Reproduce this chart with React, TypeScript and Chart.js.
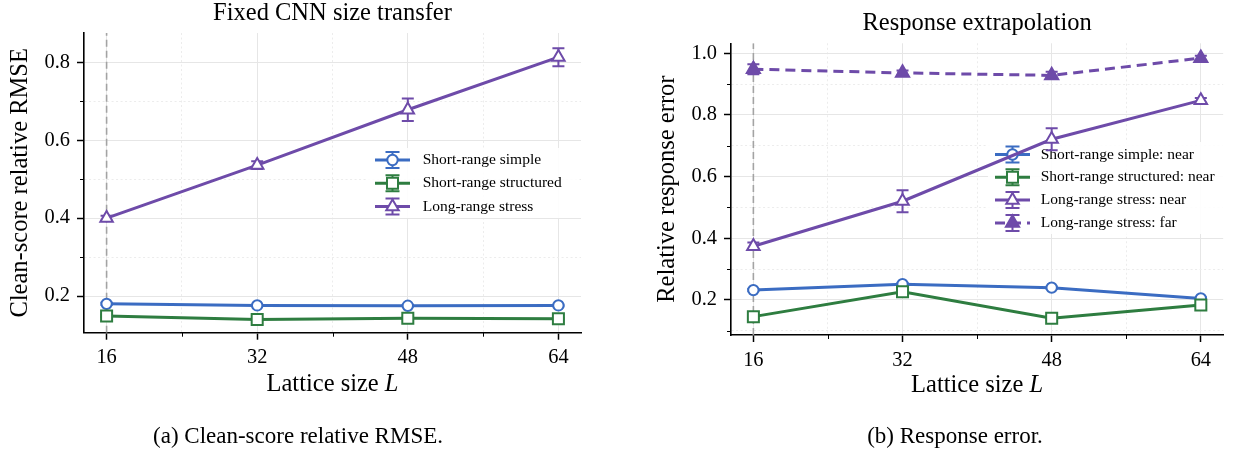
import React, { useEffect, useRef } from "react";
import { Chart, registerables } from "chart.js";
import { drawPoint } from "chart.js/helpers";

Chart.register(...registerables);

const SERIF = "'Liberation Serif', 'Times New Roman', 'DejaVu Serif', serif";

// ---------- shared axis data ----------
const latticeSizes = [16, 32, 48, 64];
const xTickValues = [16, 24, 32, 40, 48, 56, 64];
const xLabelledTicks = [16, 32, 48, 64];
const referenceSize = 16;
const xAxisTitle = "Lattice size ";
const xAxisTitleItalic = "L";

// ---------- panel (a): clean-score relative RMSE ----------
const cleanSimple = [0.18, 0.176, 0.175, 0.176];
const cleanSimpleErr = [0.003, 0.002, 0.002, 0.002];
const cleanStructured = [0.149, 0.14, 0.143, 0.142];
const cleanStructuredErr = [0.003, 0.002, 0.002, 0.002];
const cleanLongRange = [0.4, 0.536, 0.678, 0.813];
const cleanLongRangeErr = [0.006, 0.01, 0.029, 0.023];
const leftYTicks = [0.2, 0.3, 0.4, 0.5, 0.6, 0.7, 0.8];
const leftYLabelled = [0.2, 0.4, 0.6, 0.8];

// ---------- panel (b): response extrapolation ----------
const respSimpleNear = [0.232, 0.251, 0.24, 0.205];
const respSimpleNearErr = [0.004, 0.004, 0.004, 0.004];
const respStructuredNear = [0.146, 0.227, 0.141, 0.184];
const respStructuredNearErr = [0.005, 0.005, 0.005, 0.005];
const respLongNear = [0.374, 0.52, 0.721, 0.847];
const respLongNearErr = [0.012, 0.036, 0.036, 0.008];
const respLongFar = [0.948, 0.936, 0.928, 0.984];
const respLongFarErr = [0.016, 0.008, 0.012, 0.008];
const rightYTicks = [0.1, 0.2, 0.3, 0.4, 0.5, 0.6, 0.7, 0.8, 0.9, 1.0];
const rightYLabelled = [0.2, 0.4, 0.6, 0.8, 1.0];

const BLUE = "#3b6cc2";
const GREEN = "#2e7d40";
const PURPLE = "#6e4ba9";
const REF = "#a3a3a3";
const GRID = "#e6e6e6";

const near = (a: number, list: number[]) => list.some((b) => Math.abs(a - b) < 1e-6);

type Series = {
  label: string;
  values: number[];
  errors: number[];
  color: string;
  marker: string;
  radius: number;
  filled: boolean;
  dashed: boolean;
};

type Spec = {
  title: string;
  yTitle: string;
  yTitlePad: number;
  yMin: number;
  yMax: number;
  yTicks: number[];
  yLabelled: number[];
  xMin: number;
  xMax: number;
  padTop: number;
  titlePadBottom: number;
  padRight: number;
  yAxisWidth: number;
  xAxisHeight: number;
  xLabelY: number;
  caption: string;
  captionX: number;
  captionY: number;
  series: Series[];
  legend: { x: number; y: number; spacing: number; handle: number; textX: number; box: number[] };
};

const leftSeries: Series[] = [
  { label: "Short-range simple", values: cleanSimple, errors: cleanSimpleErr, color: BLUE, marker: "circle", radius: 5.2, filled: false, dashed: false },
  { label: "Short-range structured", values: cleanStructured, errors: cleanStructuredErr, color: GREEN, marker: "rect", radius: 7.8, filled: false, dashed: false },
  { label: "Long-range stress", values: cleanLongRange, errors: cleanLongRangeErr, color: PURPLE, marker: "triangle", radius: 7.2, filled: false, dashed: false },
];

const rightSeries: Series[] = [
  { label: "Short-range simple: near", values: respSimpleNear, errors: respSimpleNearErr, color: BLUE, marker: "circle", radius: 5.2, filled: false, dashed: false },
  { label: "Short-range structured: near", values: respStructuredNear, errors: respStructuredNearErr, color: GREEN, marker: "rect", radius: 7.8, filled: false, dashed: false },
  { label: "Long-range stress: near", values: respLongNear, errors: respLongNearErr, color: PURPLE, marker: "triangle", radius: 7.2, filled: false, dashed: false },
  { label: "Long-range stress: far", values: respLongFar, errors: respLongFarErr, color: PURPLE, marker: "triangle", radius: 7.6, filled: true, dashed: true },
];

const leftSpec: Spec = {
  title: "Fixed CNN size transfer",
  yTitle: "Clean-score relative RMSE",
  yTitlePad: 5.5,
  yMin: 0.106,
  yMax: 0.875,
  yTicks: leftYTicks,
  yLabelled: leftYLabelled,
  xMin: 13.6,
  xMax: 66.4,
  padTop: 0,
  titlePadBottom: 6.75,
  padRight: 39,
  yAxisWidth: 84,
  xAxisHeight: 124.3,
  xLabelY: 385,
  caption: "(a) Clean-score relative RMSE.",
  captionX: 298,
  captionY: 437,
  series: leftSeries,
  legend: { x: 375, y: 160, spacing: 23.3, handle: 35, textX: 422.7, box: [368, 148, 210, 70] },
};

const rightSpec: Spec = {
  title: "Response extrapolation",
  yTitle: "Relative response error",
  yTitlePad: 33.3,
  yMin: 0.0865,
  yMax: 1.032,
  yTicks: rightYTicks,
  yLabelled: rightYLabelled,
  xMin: 13.6,
  xMax: 66.4,
  padTop: 10,
  titlePadBottom: 7.05,
  padRight: 3,
  yAxisWidth: 111,
  xAxisHeight: 122,
  xLabelY: 386,
  caption: "(b) Response error.",
  captionX: 335,
  captionY: 437,
  series: rightSeries,
  legend: { x: 375, y: 154.5, spacing: 22.8, handle: 35, textX: 420.7, box: [368, 142, 242, 92] },
};

const errorBarPlugin = {
  id: "errorBars",
  beforeDatasetDraw(chart: any, args: any) {
    const ds: any = chart.data.datasets[args.index];
    if (!ds.errors) return;
    const { ctx } = chart;
    const x = chart.scales.x;
    const y = chart.scales.y;
    ctx.save();
    ctx.strokeStyle = ds.borderColor;
    ctx.lineWidth = 2;
    ctx.setLineDash([]);
    ds.data.forEach((p: any, j: number) => {
      const e = ds.errors[j];
      const px = x.getPixelForValue(p.x);
      const top = y.getPixelForValue(p.y + e);
      const bot = y.getPixelForValue(p.y - e);
      ctx.beginPath();
      ctx.moveTo(px, top);
      ctx.lineTo(px, bot);
      ctx.moveTo(px - 6, top);
      ctx.lineTo(px + 6, top);
      ctx.moveTo(px - 6, bot);
      ctx.lineTo(px + 6, bot);
      ctx.stroke();
    });
    ctx.restore();
  },
};

function makeLegendPlugin(spec: Spec) {
  return {
    id: "seriesLegend",
    beforeDatasetsDraw(chart: any) {
      const ctx = chart.ctx as CanvasRenderingContext2D;
      const L = spec.legend;
      ctx.save();
      ctx.fillStyle = "rgba(255,255,255,0.9)";
      ctx.fillRect(L.box[0], L.box[1], L.box[2], L.box[3]);
      spec.series.forEach((s, i) => {
        const y = L.y + i * L.spacing;
        const x0 = L.x;
        const x1 = L.x + L.handle;
        const cx = (x0 + x1) / 2;
        ctx.strokeStyle = s.color;
        ctx.lineWidth = 3;
        ctx.setLineDash(s.dashed ? [10, 6] : []);
        ctx.beginPath();
        ctx.moveTo(x0, y);
        ctx.lineTo(x1, y);
        ctx.stroke();
        ctx.setLineDash([]);
        ctx.lineWidth = 2;
        ctx.beginPath();
        ctx.moveTo(cx, y - 8);
        ctx.lineTo(cx, y + 8);
        ctx.moveTo(cx - 7, y - 8);
        ctx.lineTo(cx + 7, y - 8);
        ctx.moveTo(cx - 7, y + 8);
        ctx.lineTo(cx + 7, y + 8);
        ctx.stroke();
        ctx.fillStyle = s.filled ? s.color : "#ffffff";
        ctx.strokeStyle = s.color;
        ctx.lineWidth = 2;
        drawPoint(ctx, { pointStyle: s.marker as any, radius: s.radius, rotation: 0, borderWidth: 2 } as any, cx, y);
        ctx.fillStyle = "#000";
        ctx.font = `15.5px ${SERIF}`;
        ctx.textAlign = "left";
        ctx.textBaseline = "middle";
        ctx.fillText(s.label, L.textX, y);
      });
      ctx.restore();
    },
  };
}

function makeExtrasPlugin(spec: Spec) {
  return {
    id: "panelExtras",
    afterDraw(chart: any) {
      const ctx = chart.ctx as CanvasRenderingContext2D;
      const area = chart.chartArea;
      const xs = chart.scales.x;
      const ys = chart.scales.y;
      ctx.save();
      // minor tick marks
      ctx.strokeStyle = "#000";
      ctx.lineWidth = 1;
      ctx.beginPath();
      xTickValues.forEach((v) => {
        if (near(v, xLabelledTicks)) return;
        const px = Math.round(xs.getPixelForValue(v)) + 0.5;
        ctx.moveTo(px, area.bottom);
        ctx.lineTo(px, area.bottom + 4);
      });
      spec.yTicks.forEach((v) => {
        if (near(v, spec.yLabelled)) return;
        const py = Math.round(ys.getPixelForValue(v)) + 0.5;
        ctx.moveTo(area.left - 4, py);
        ctx.lineTo(area.left, py);
      });
      ctx.stroke();
      // x axis title with italic L
      ctx.fillStyle = "#000";
      ctx.textBaseline = "middle";
      ctx.textAlign = "left";
      const regular = `24.5px ${SERIF}`;
      const italic = `italic 24.5px ${SERIF}`;
      ctx.font = regular;
      const w1 = ctx.measureText(xAxisTitle).width;
      ctx.font = italic;
      const w2 = ctx.measureText(xAxisTitleItalic).width;
      const cx = (area.left + area.right) / 2;
      const start = cx - (w1 + w2) / 2;
      ctx.font = regular;
      ctx.fillText(xAxisTitle, start, spec.xLabelY);
      ctx.font = italic;
      ctx.fillText(xAxisTitleItalic, start + w1, spec.xLabelY);
      // caption
      ctx.font = `23px ${SERIF}`;
      ctx.textAlign = "center";
      ctx.fillText(spec.caption, spec.captionX, spec.captionY);
      ctx.restore();
    },
  };
}

function buildChart(canvas: HTMLCanvasElement, spec: Spec) {
  const datasets: any[] = [
    {
      label: "reference",
      data: [
        { x: referenceSize, y: spec.yMin },
        { x: referenceSize, y: spec.yMax },
      ],
      borderColor: REF,
      borderWidth: 1.6,
      borderDash: [7, 4],
      pointRadius: 0,
      order: 99,
    },
    ...spec.series.map((s, i) => ({
      label: s.label,
      data: latticeSizes.map((x, j) => ({ x, y: s.values[j] })),
      errors: s.errors,
      borderColor: s.color,
      backgroundColor: s.color,
      borderWidth: 3,
      borderDash: s.dashed ? [10, 6] : [],
      pointStyle: s.marker,
      pointRadius: s.radius,
      pointHoverRadius: s.radius,
      pointBorderWidth: 2,
      pointBackgroundColor: s.filled ? s.color : "#ffffff",
      pointBorderColor: s.color,
      fill: false,
      tension: 0,
      order: spec.series.length - i,
    })),
  ];

  const gridColor = (minorTest: (v: number) => boolean) => (c: any) =>
    c.tick && minorTest(c.tick.value) ? "#ececec" : GRID;

  const isMinorX = (v: number) => !near(v, xLabelledTicks);
  const isMinorY = (v: number) => !near(v, spec.yLabelled);

  return new Chart(canvas, {
    type: "line",
    data: { datasets },
    options: {
      responsive: false,
      animation: false,
      devicePixelRatio: 1,
      events: [],
      layout: { padding: { top: spec.padTop, right: spec.padRight, bottom: 0, left: 0 } },
      plugins: {
        legend: { display: false },
        tooltip: { enabled: false },
        title: {
          display: true,
          fullSize: false,
          text: spec.title,
          color: "#000",
          font: { family: SERIF, size: 24.5, weight: "normal", lineHeight: 1 },
          padding: { top: 1.75, bottom: spec.titlePadBottom },
        },
      },
      scales: {
        x: {
          type: "linear",
          min: spec.xMin,
          max: spec.xMax,
          afterBuildTicks: (s: any) => {
            s.ticks = xTickValues.map((v) => ({ value: v }));
          },
          afterFit: (s: any) => {
            s.height = spec.xAxisHeight;
            s.paddingLeft = 0;
            s.paddingRight = 0;
          },
          ticks: {
            autoSkip: false,
            maxRotation: 0,
            minRotation: 0,
            padding: 6,
            color: "#000",
            font: { family: SERIF, size: 20.4 },
            callback: (v: any) => (near(Number(v), xLabelledTicks) ? String(v) : ""),
          },
          grid: {
            color: gridColor(isMinorX),
            lineWidth: 1,
            tickLength: 7,
            tickWidth: 1.5,
            tickColor: (c: any) => (c.tick && isMinorX(c.tick.value) ? "rgba(0,0,0,0)" : "#000"),
          },
          border: {
            color: "#000",
            width: 1.6,
            dash: (c: any) => (c.tick && isMinorX(c.tick.value) ? [2, 2.5] : []),
          },
        },
        y: {
          type: "linear",
          min: spec.yMin,
          max: spec.yMax,
          afterBuildTicks: (s: any) => {
            s.ticks = spec.yTicks.map((v) => ({ value: v }));
          },
          afterFit: (s: any) => {
            s.width = spec.yAxisWidth;
            s.paddingTop = 0;
            s.paddingBottom = 0;
          },
          ticks: {
            autoSkip: false,
            padding: 7,
            color: "#000",
            font: { family: SERIF, size: 20.4 },
            callback: (v: any) => (near(Number(v), spec.yLabelled) ? Number(v).toFixed(1) : ""),
          },
          grid: {
            color: gridColor(isMinorY),
            lineWidth: 1,
            tickLength: 7,
            tickWidth: 1.5,
            tickColor: (c: any) => (c.tick && isMinorY(c.tick.value) ? "rgba(0,0,0,0)" : "#000"),
          },
          border: {
            color: "#000",
            width: 1.6,
            dash: (c: any) => (c.tick && isMinorY(c.tick.value) ? [2, 2.5] : []),
          },
          title: {
            display: true,
            text: spec.yTitle,
            color: "#000",
            font: { family: SERIF, size: 24.5, lineHeight: 1.2 },
            padding: { top: spec.yTitlePad, bottom: 0 },
          },
        },
      },
    } as any,
    plugins: [errorBarPlugin, makeLegendPlugin(spec), makeExtrasPlugin(spec)],
  });
}

function Panel({ spec, left, width }: { spec: Spec; left: number; width: number }) {
  const ref = useRef<HTMLCanvasElement>(null);
  useEffect(() => {
    if (!ref.current) return;
    const chart = buildChart(ref.current, spec);
    return () => chart.destroy();
  }, [spec]);
  return (
    <canvas
      ref={ref}
      width={width}
      height={457}
      style={{ position: "absolute", left, top: 0, width, height: 457, display: "block" }}
    />
  );
}

export default function App() {
  return (
    <div
      style={{
        position: "fixed",
        left: 0,
        top: 0,
        width: 1233,
        height: 457,
        background: "#ffffff",
        overflow: "hidden",
      }}
    >
      <Panel spec={leftSpec} left={0} width={620} />
      <Panel spec={rightSpec} left={620} width={613} />
    </div>
  );
}
